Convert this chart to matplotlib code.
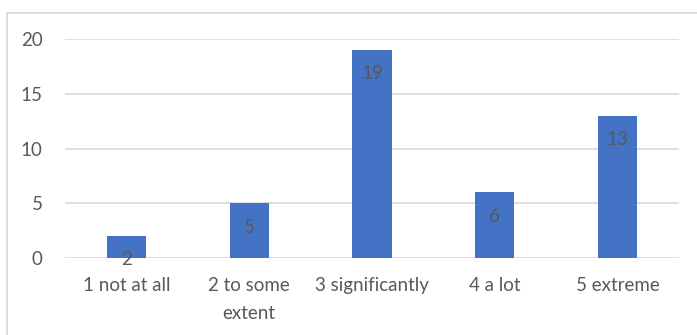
import matplotlib
matplotlib.use('Agg')
import matplotlib.pyplot as plt
from matplotlib.patches import Rectangle

categories = ['1 not at all', '2 to some\nextent', '3 significantly', '4 a lot', '5 extreme']
counts = [2, 5, 19, 6, 13]
yticks = [0, 5, 10, 15, 20]

plt.rcParams['font.family'] = ['Lato', 'DejaVu Sans']

fig = plt.figure(figsize=(6.97, 3.35), dpi=100)
ax = fig.add_axes([65/697, 77/335, 614/697, 219/335])

# light frame around the chart area (cut off at right and bottom)
fig.patches.append(Rectangle((7/697, -0.1), 1.2, (335-13)/335 + 0.1,
                             transform=fig.transFigure, fill=False,
                             edgecolor='#D9D9D9', linewidth=1.3))

xs = range(len(categories))
bars = ax.bar(xs, counts, width=0.32, color='#4472C4', zorder=3)

for x, v in zip(xs, counts):
    ax.annotate(str(v), (x, v), xytext=(0, -11), textcoords='offset points',
                ha='center', va='top', fontsize=13.5, color='#595959', zorder=4)

ax.set_xlim(-0.5, 4.5)
ax.set_ylim(0, 20)
ax.set_yticks(yticks)
ax.set_xticks(list(xs))
ax.set_xticklabels(categories, fontsize=13.5, color='#595959', linespacing=1.75)
ax.tick_params(axis='y', labelsize=13.5, labelcolor='#595959', length=0, pad=16)
ax.tick_params(axis='x', length=0, pad=14)
ax.grid(axis='y', color='#D9D9D9', linewidth=1.2, zorder=0)
for s in ax.spines.values():
    s.set_visible(False)

fig.savefig('out.png', dpi=100)
